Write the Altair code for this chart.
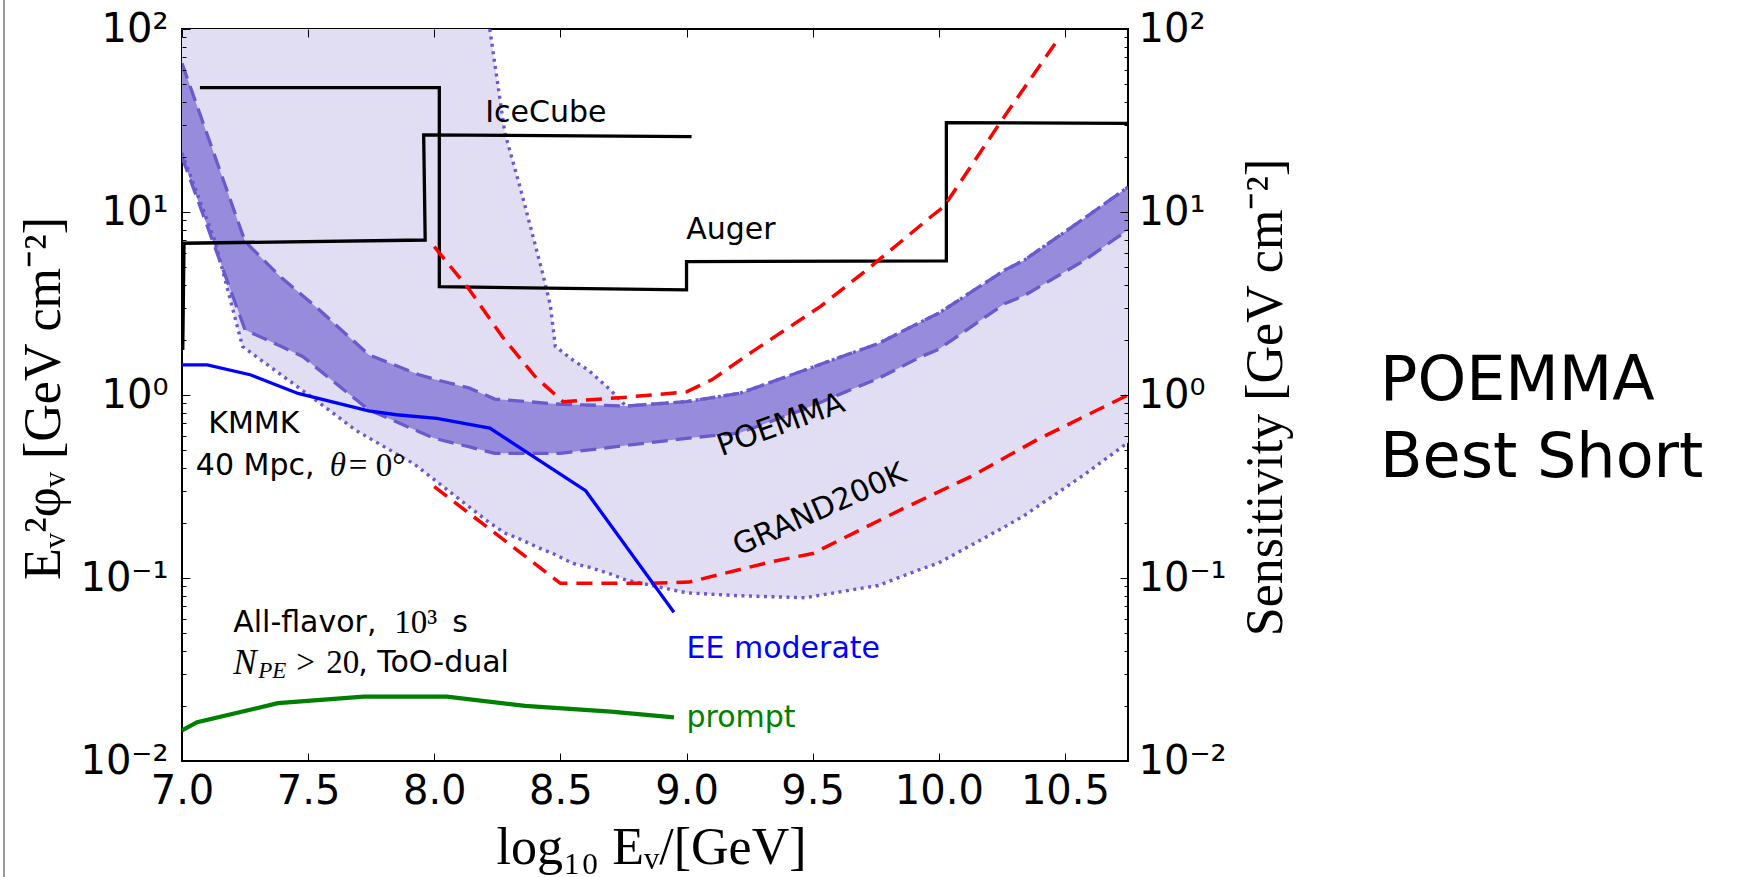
import altair as alt
import pandas as pd

# ---------------- data ----------------
# light band (wide uncertainty region, dotted edges)
LIGHT_X  = [7.00, 7.13, 7.24, 7.52, 7.69, 7.92, 8.22, 8.28, 8.34, 8.43, 8.46, 8.48, 8.55, 8.61, 8.70,
            8.76, 9.00, 9.21, 9.47, 9.63, 9.76, 9.93, 10.00, 10.26, 10.34, 10.58, 10.75]
LIGHT_LO = [21.0, 7.0, 1.84, 0.96, 0.64, 0.42, 0.20, 0.176, 0.163, 0.143, 0.138, 0.134, 0.12, 0.115, 0.105,
            0.0975, 0.083, 0.080, 0.078, 0.085, 0.091, 0.112, 0.121, 0.19, 0.22, 0.37, 0.55]
LIGHT_HI = [100, 100, 100, 100, 100, 100, 100, 27.0, 13.7, 4.6, 3.1, 1.84, 1.55, 1.37, 1.06,
            0.87, 0.92, 1.02, 1.37, 1.65, 1.91, 2.51, 2.8, 4.8, 5.47, 9.3, 13.7]

# dark band (POEMMA, dashed edges)
DARK_X  = [7.00, 7.25, 7.39, 7.48, 7.53, 7.74, 7.94, 8.00, 8.14, 8.24, 8.50, 8.76, 9.00, 9.21,
           9.47, 9.63, 9.76, 9.93, 10.00, 10.26, 10.34, 10.58, 10.75]
DARK_LO = [20.0, 2.27, 1.85, 1.62, 1.42, 0.83, 0.63, 0.58, 0.52, 0.48, 0.48, 0.53, 0.58, 0.62,
           0.84, 1.04, 1.23, 1.62, 1.78, 3.15, 3.5, 5.47, 8.0]
DARK_HI = [64.9, 6.9, 4.43, 3.47, 3.04, 1.66, 1.29, 1.22, 1.09, 0.95, 0.89, 0.87, 0.92, 1.02,
           1.37, 1.65, 1.91, 2.51, 2.8, 4.8, 5.47, 9.3, 13.7]

# red dashed curves
RED_A_X = [8.00, 8.14, 8.27, 8.40, 8.51, 8.75, 9.00, 9.10, 9.27, 9.53, 9.73, 9.97, 10.02, 10.25, 10.48]
RED_A_Y = [6.46, 3.75, 2.08, 1.26, 0.92, 0.97, 1.04, 1.21, 1.76, 3.04, 5.02, 9.45, 10.7, 31.8, 90.7]
RED_B_X = [8.00, 8.50, 8.86, 9.01, 9.34, 9.50, 9.86, 10.13, 10.39, 10.75]
RED_B_Y = [0.316, 0.0935, 0.0935, 0.095, 0.123, 0.136, 0.24, 0.36, 0.57, 1.0]

# EE moderate (blue) and prompt (green)
BLUE_X = [7.00, 7.10, 7.27, 7.46, 7.74, 7.85, 8.01, 8.22, 8.60, 8.95]
BLUE_Y = [1.46, 1.46, 1.29, 1.02, 0.82, 0.78, 0.745, 0.66, 0.30, 0.065]
GREEN_X = [7.00, 7.06, 7.38, 7.72, 8.05, 8.36, 8.70, 8.95]
GREEN_Y = [0.0147, 0.0163, 0.0207, 0.0225, 0.0225, 0.020, 0.0186, 0.0173]

# black step curves
ICE_X = [7.003, 7.008, 7.964, 7.958, 9.02]
ICE_Y = [1.76, 6.75, 7.03, 26.4, 25.8]
AUG_X = [7.071, 8.02, 8.02, 9.00, 9.00, 10.03, 10.03, 10.75]
AUG_Y = [47.8, 47.8, 3.91, 3.75, 5.36, 5.40, 30.8, 30.5]

X_TICKS = [7.0, 7.5, 8.0, 8.5, 9.0, 9.5, 10.0, 10.5]
Y_MAJOR = [0.01, 0.1, 1, 10, 100]
Y_MINOR = [m * 10.0 ** e for e in (-2, -1, 0, 1) for m in range(2, 10)]

# ---------------- styling ----------------
W, H = 946, 732
SANS = "DejaVu Sans"
SERIF = "Liberation Serif"
LIGHT = "#e1def4"
DARK = "#978cdb"
EDGE = "#6a5acd"
DASH = [16, 8]
RDASH = [16, 9]
DOT = [3, 4.5]

LEXPR = ("datum.value >= 50 ? '10²' : datum.value >= 5 ? '10¹' : "
         "datum.value >= 0.5 ? '10⁰' : datum.value >= 0.05 ? '10⁻¹' : '10⁻²'")


def xs():
    return alt.Scale(domain=[7.0, 10.75], nice=False, zero=False)


def ys():
    return alt.Scale(type="log", domain=[0.01, 100], nice=False)


def ex(field="x"):
    return alt.X(f"{field}:Q", scale=xs(), axis=None)


def ey(field="y"):
    return alt.Y(f"{field}:Q", scale=ys(), axis=None)


def line(xv, yv, color, width, dash=None):
    df = pd.DataFrame({"x": xv, "y": yv, "i": list(range(len(xv)))})
    kw = dict(color=color, strokeWidth=width, clip=True, interpolate="linear")
    if dash:
        kw["strokeDash"] = dash
    return alt.Chart(df).mark_line(**kw).encode(x=ex(), y=ey(), order="i:Q")


def band(xv, lo, hi, color):
    df = pd.DataFrame({"x": xv, "lo": lo, "hi": hi})
    return alt.Chart(df).mark_area(color=color, opacity=1, clip=True).encode(
        x=ex(), y=ey("lo"), y2="hi:Q")


def label(x, y, text, size=30, font=SANS, color="black", style="normal",
          dx=0, dy=0, angle=0, align="left"):
    df = pd.DataFrame({"x": [x], "y": [y], "t": [text]})
    kw = dict(font=font, fontSize=size, color=color, fontStyle=style,
              dx=dx, dy=dy, align=align, baseline="middle")
    if angle:
        kw["angle"] = angle
    return alt.Chart(df).mark_text(**kw).encode(x=ex(), y=ey(), text="t:N")


upper_dot_x = [x for x in LIGHT_X if x >= 8.22]
upper_dot_y = [h for x, h in zip(LIGHT_X, LIGHT_HI) if x >= 8.22]

layers = [
    band(LIGHT_X, LIGHT_LO, LIGHT_HI, LIGHT),
    band(DARK_X, DARK_LO, DARK_HI, DARK),
    line(LIGHT_X, LIGHT_LO, EDGE, 3.4, DOT),
    line(upper_dot_x, upper_dot_y, EDGE, 3.4, DOT),
    line(DARK_X, DARK_LO, EDGE, 3.3, DASH),
    line(DARK_X, DARK_HI, EDGE, 3.3, DASH),
    line(ICE_X, ICE_Y, "black", 3.3),
    line(AUG_X, AUG_Y, "black", 3.3),
    line(RED_A_X, RED_A_Y, "#ff0000", 3.5, RDASH),
    line(RED_B_X, RED_B_Y, "#ff0000", 3.5, RDASH),
    line(BLUE_X, BLUE_Y, "#0000ff", 3.3),
    line(GREEN_X, GREEN_Y, "#008000", 4.2),
    # annotations
    label(8.202, 34.6, "IceCube"),
    label(8.999, 7.98, "Auger"),
    label(9.374, 0.686, "POEMMA", angle=340, align="center"),
    label(9.528, 0.235, "GRAND200K", angle=336, align="center"),
    label(7.104, 0.698, "KMMK"),
    label(7.055, 0.41, "40 Mpc,"),
    label(7.055, 0.41, "θ", font=SERIF, style="italic", size=33, dx=134),
    label(7.055, 0.41, "=", font=SERIF, size=33, dx=153),
    label(7.055, 0.41, "0°", font=SERIF, size=33, dx=180),
    label(7.203, 0.057, "All-flavor,"),
    label(7.203, 0.057, "10³", font=SERIF, size=33, dx=161),
    label(7.203, 0.057, "s", dx=219),
    label(7.203, 0.0342, "N", font=SERIF, style="italic", size=35),
    label(7.203, 0.0342, "PE", font=SERIF, style="italic", size=23, dx=25, dy=8),
    label(7.203, 0.0342, ">", font=SERIF, size=33, dx=63),
    label(7.203, 0.0342, "20", font=SERIF, size=33, dx=93),
    label(7.203, 0.0342, ", ToO-dual", dx=125),
    label(9.0, 0.0411, "EE moderate", color="#0000ff"),
    label(9.0, 0.0172, "prompt", color="#008000"),
]

dummy = pd.DataFrame({"x": [7.0], "y": [1.0]})
common = dict(domain=False, grid=False, tickColor="black", tickWidth=1,
              labelColor="black", zindex=1, labelFont=SANS, labelFontSize=40,
              titleColor="black", labelFlush=False, labelOverlap=False)

ax_main = alt.Chart(dummy).mark_point(opacity=0).encode(
    x=alt.X("x:Q", scale=xs(), axis=alt.Axis(
        orient="bottom", values=X_TICKS, format=".1f", offset=-8, tickSize=8,
        labelPadding=10, title="log₁₀  Eᵥ/[GeV]", titleFont=SERIF,
        titleFontSize=52, titleFontWeight="normal", titleX=469, titleY=94,
        titleAlign="center", titleBaseline="middle", **common)),
    y=alt.Y("y:Q", scale=ys(), axis=alt.Axis(
        orient="left", values=Y_MAJOR, labelExpr=LEXPR, offset=-8, tickSize=8,
        labelPadding=14, title="Eᵥ²φᵥ   [GeV  cm⁻²]", titleFont=SERIF,
        titleFontSize=52, titleFontWeight="normal", titleAngle=270,
        titleX=-147, titleY=369, titleAlign="center", titleBaseline="middle",
        **common)),
)
ax_minor_left = alt.Chart(dummy).mark_point(opacity=0).encode(
    x=alt.X("x:Q", scale=xs(), axis=alt.Axis(
        orient="top", values=X_TICKS, labels=False, offset=-8, tickSize=8,
        title=None, **common)),
    y=alt.Y("y:Q", scale=ys(), axis=alt.Axis(
        orient="left", values=Y_MINOR, labels=False, offset=-4, tickSize=4,
        title=None, **common)),
)
ax_right = alt.Chart(dummy).mark_point(opacity=0).encode(
    x=ex(),
    y=alt.Y("y:Q", scale=ys(), axis=alt.Axis(
        orient="right", values=Y_MAJOR, labelExpr=LEXPR, offset=-8, tickSize=8,
        labelPadding=10, title="Sensitivity  [GeV  cm⁻²]", titleFont=SERIF,
        titleFontSize=52, titleFontWeight="normal", titleAngle=270,
        titleX=145, titleY=368, titleAlign="center", titleBaseline="middle",
        **common)),
)
ax_right_minor = alt.Chart(dummy).mark_point(opacity=0).encode(
    x=ex(),
    y=alt.Y("y:Q", scale=ys(), axis=alt.Axis(
        orient="right", values=Y_MINOR, labels=False, offset=-4, tickSize=4,
        title=None, **common)),
)

border = alt.Chart(dummy).mark_rule(color="#9a9a9a", strokeWidth=2).encode(
    x=alt.value(-178), y=alt.value(-29), y2=alt.value(H + 116))
side1 = alt.Chart(dummy).mark_text(text="POEMMA", align="left", baseline="alphabetic",
                                   font=SANS, fontSize=62, color="black").encode(
    x=alt.value(1198), y=alt.value(371))
side2 = alt.Chart(dummy).mark_text(text="Best Short", align="left", baseline="alphabetic",
                                   font=SANS, fontSize=62, color="black").encode(
    x=alt.value(1198), y=alt.value(448))

chart = alt.layer(
    *layers, ax_main, ax_minor_left, ax_right, ax_right_minor, border, side1, side2
).resolve_scale(x="independent", y="independent").properties(
    width=W, height=H,
    autosize=alt.AutoSizeParams(type="none"),
    padding={"left": 182, "top": 29, "right": 622, "bottom": 116},
    background="white",
).configure_view(stroke="black", strokeWidth=2)

chart.save("out.html", embed_options={"renderer": "svg", "actions": False})
